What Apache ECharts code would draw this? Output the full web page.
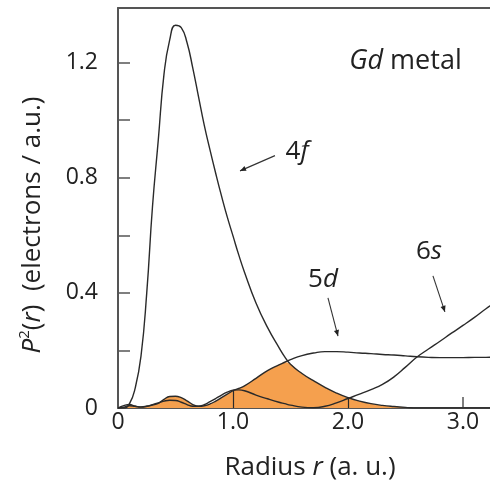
<!DOCTYPE html>
<html>
<head>
<meta charset="utf-8">
<script src="https://cdn.jsdelivr.net/npm/echarts@6/dist/echarts.min.js"></script>
<style>
html,body{margin:0;padding:0;background:#fff;}
#c{width:490px;height:486px;}
</style>
</head>
<body>
<div id="c"></div>
<script>
// Radius grid (a.u.)
const radius = [0,0.05,0.1,0.15,0.2,0.25,0.3,0.35,0.4,0.45,0.5,0.55,0.6,0.65,0.7,0.75,0.8,0.85,0.9,0.95,
  1.0,1.05,1.1,1.2,1.3,1.4,1.45,1.5,1.6,1.7,1.8,1.9,2.0,2.1,2.2,2.3,2.4,2.5,2.6,2.7,2.8,2.9,3.0,3.1,3.2,3.3];
// P^2(r) for 4f
const p4f = [0,0,0.015,0.07,0.18,0.40,0.70,0.93,1.16,1.28,1.33,1.322,1.27,1.182,1.082,0.983,0.897,0.815,0.737,0.664,
  0.598,0.532,0.472,0.365,0.28,0.21,0.178,0.152,0.12,0.095,0.072,0.052,0.036,0.024,0.015,0.009,0.005,0.002,0,0,0,0,0,0,0,0];
// P^2(r) for 5d
const p5d = [0,0.003,0.008,0.006,0.004,0.006,0.01,0.016,0.03,0.04,0.041,0.036,0.025,0.012,0.006,0.008,0.014,0.024,0.036,0.048,
  0.06,0.068,0.077,0.103,0.13,0.15,0.159,0.168,0.182,0.191,0.196,0.196,0.194,0.191,0.189,0.186,0.184,0.181,0.178,0.176,0.175,0.175,0.175,0.176,0.176,0.177];
// P^2(r) for 6s
const p6s = [0,0.008,0.012,0.006,0.003,0.006,0.012,0.018,0.024,0.027,0.026,0.02,0.012,0.006,0.006,0.012,0.022,0.033,0.045,0.055,
  0.062,0.063,0.06,0.045,0.032,0.02,0.015,0.01,0.003,0.001,0.006,0.018,0.033,0.048,0.064,0.082,0.108,0.142,0.177,0.205,0.232,0.26,0.287,0.315,0.345,0.372];
// tick labels
const xTickLabels = {0:'0',1:'1.0',2:'2.0',3:'3.0'};
const yTickLabels = {0:'0',4:'0.4',8:'0.8',12:'1.2'};
const boundaryR = [1.0, 2.0];

const pairs = arr => radius.map((r,i)=>[r, arr[i]]);
const overlap = radius.map((r,i)=>[r, Math.min(p4f[i], p5d[i])]);
const boundaryLines = boundaryR.map(br=>{
  const i = radius.indexOf(br);
  return [{coord:[br,0]},{coord:[br, Math.min(p4f[i],p5d[i])]}];
});

const FONT = '"Open Sans", "Noto Sans", sans-serif';
const TXT = '#222';
const LINE = '#2a2a2a';

const chart = echarts.init(document.getElementById('c'), null, {renderer:'canvas'});
const lineStyle = {color:LINE, width:1.4};
chart.setOption({
  animation:false,
  backgroundColor:'#fff',
  grid:{left:118, top:8, right:0, bottom:78, containLabel:false},
  xAxis:[{
    type:'value', min:0, max:3.235, interval:1,
    axisLine:{show:true, lineStyle:{color:'#555', width:2}},
    axisTick:{show:true, inside:true, length:11, lineStyle:{color:'#555', width:1.5}},
    splitLine:{show:false},
    axisLabel:{margin:3, fontSize:23, fontFamily:FONT, color:TXT, showMaxLabel:false,
      formatter:v=>{const k=Math.round(v); return Math.abs(v-k)<1e-6 && xTickLabels[k]!==undefined ? xTickLabels[k] : '';}}
  },{
    type:'value', min:0, max:3.235, position:'top',
    axisLine:{show:true, lineStyle:{color:'#555', width:2}},
    axisTick:{show:false}, axisLabel:{show:false}, splitLine:{show:false}
  }],
  yAxis:{
    type:'value', min:0, max:1.39, interval:0.2,
    axisLine:{show:true, lineStyle:{color:'#555', width:2}},
    axisTick:{show:true, inside:true, length:12, lineStyle:{color:'#555', width:1.5}},
    splitLine:{show:false},
    axisLabel:{margin:20, fontSize:23, fontFamily:FONT, color:TXT, showMaxLabel:false,
      formatter:v=>{const k=Math.round(v*10); return yTickLabels[k]!==undefined && Math.abs(v*10-k)<1e-6 ? yTickLabels[k] : '';}}
  },
  series:[
    {type:'line', name:'overlap', data:overlap, smooth:0.5, symbol:'none', z:2,
      lineStyle:{width:0}, areaStyle:{color:'#f5a04e', opacity:1},
      markLine:{silent:true, symbol:'none', label:{show:false}, lineStyle:{color:LINE, width:1.2, type:'solid'}, data:boundaryLines}},
    {type:'line', name:'4f', data:pairs(p4f), smooth:0.5, symbol:'none', z:3, lineStyle:lineStyle},
    {type:'line', name:'5d', data:pairs(p5d), smooth:0.5, symbol:'none', z:3, lineStyle:lineStyle},
    {type:'line', name:'6s', data:pairs(p6s), smooth:0.5, symbol:'none', z:3, lineStyle:lineStyle}
  ]
});

function px(x,y){ return chart.convertToPixel({gridIndex:0},[x,y]); }
function arrow(from, to){
  const a = px(from[0],from[1]), b = px(to[0],to[1]);
  const ang = Math.atan2(b[1]-a[1], b[0]-a[0]);
  const L=6, W=2.6;
  const p1=[b[0]-L*Math.cos(ang)+W*Math.sin(ang), b[1]-L*Math.sin(ang)-W*Math.cos(ang)];
  const p2=[b[0]-L*Math.cos(ang)-W*Math.sin(ang), b[1]-L*Math.sin(ang)+W*Math.cos(ang)];
  return [
    {type:'line', shape:{x1:a[0],y1:a[1],x2:b[0],y2:b[1]}, style:{stroke:'#333', lineWidth:1.1}, z:10},
    {type:'polygon', shape:{points:[b,p1,p2]}, style:{fill:'#222'}, z:10}
  ];
}
function label(pos, num, ital){
  const p = px(pos[0],pos[1]);
  return {type:'text', x:p[0], y:p[1], z:10, style:{
    text:'{n|'+num+'}{i|'+ital+'}', align:'center', verticalAlign:'middle',
    rich:{n:{fontSize:26, fontFamily:FONT, fill:TXT}, i:{fontSize:26, fontFamily:FONT, fontStyle:'italic', fill:TXT}}}};
}
const gd = px(2.01, 1.205);
const graphics = [
  {type:'text', x:gd[0], y:gd[1], z:10, style:{text:'{i|Gd}{n| metal}', align:'left', verticalAlign:'middle',
    rich:{n:{fontSize:27, fontFamily:FONT, fill:TXT}, i:{fontSize:27, fontFamily:FONT, fontStyle:'italic', fill:TXT}}}},
  label([1.557,0.89],'4','f'),
  label([1.783,0.445],'5','d'),
  label([2.704,0.545],'6','s'),
  ...arrow([1.365,0.877],[1.061,0.824]),
  ...arrow([1.826,0.383],[1.913,0.250]),
  ...arrow([2.739,0.459],[2.843,0.334]),
  {type:'text', x:310, y:468, z:10, style:{text:'{n|Radius }{i|r}{n| (a. u.)}', align:'center', verticalAlign:'middle',
    rich:{n:{fontSize:26, fontFamily:FONT, fill:TXT}, i:{fontSize:26, fontFamily:FONT, fontStyle:'italic', fill:TXT}}}},
  {type:'text', x:33, y:225, rotation:Math.PI/2, z:10, style:{text:'{i|P}{sup|2}{n|(}{i|r}{n|)  (electrons / a.u.)}', align:'center', verticalAlign:'middle',
    rich:{n:{fontSize:26, fontFamily:FONT, fill:TXT, lineHeight:32}, i:{fontSize:26, fontFamily:FONT, fontStyle:'italic', fill:TXT, lineHeight:32},
      sup:{fontSize:15, fontFamily:FONT, fill:TXT, verticalAlign:'top', lineHeight:32, padding:[0,0,12,0]}}}}
];
chart.setOption({graphic:graphics});
</script>
</body>
</html>
